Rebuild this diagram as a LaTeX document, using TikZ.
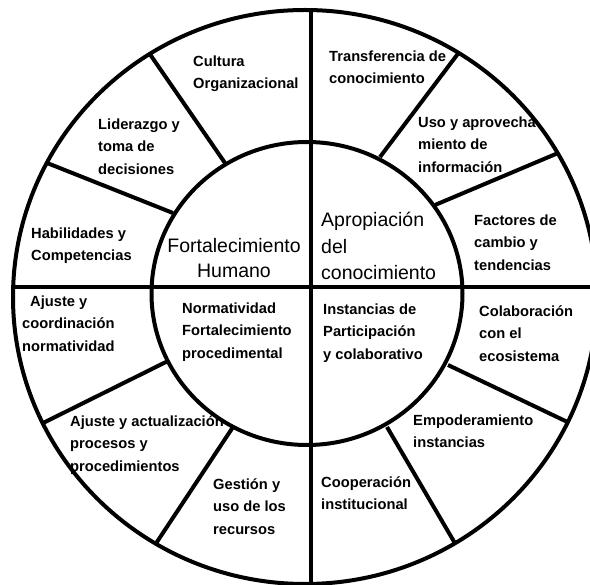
\documentclass[tikz,border=0pt]{standalone}
\usepackage{fontspec}
\setmainfont{Liberation Sans}

\begin{document}
\begin{tikzpicture}[x=1pt, y=-1pt,
		rim/.style={line width=4pt},
		spoke/.style={line width=4pt},
		item/.style={anchor=north west, inner sep=0pt, align=left, font=\bfseries\fontsize{14.7}{22.5}\selectfont},
		core/.style={anchor=north west, inner sep=0pt, align=left, font=\fontsize{19.5}{26.5}\selectfont}]
			\fill[white] (0, 0) rectangle (590, 585);
			\useasboundingbox (0, 0) rectangle (590, 585);
			\coordinate (O) at (305, 297);
			\coordinate (I) at (307, 293.5);
			\begin{scope}
				\clip (O) ellipse [x radius=292pt, y radius=287pt];
				\draw[rim] (311, 0) -- (311, 600);
				\draw[rim] (0, 287) -- (600, 287);
				\draw[spoke] (225, 163) -- (146, 48.5);
				\draw[spoke] (173, 213) -- (37, 159);
				\draw[spoke] (380, 157) -- (463, 47);
				\draw[spoke] (435, 205) -- (570, 148);
				\draw[spoke] (168, 361) -- (33, 428);
				\draw[spoke] (233, 427) -- (149, 554);
				\draw[spoke] (448, 365) -- (580, 428);
				\draw[spoke] (387, 427) -- (463, 557);
			\end{scope}
			\draw[rim] (O) ellipse [x radius=292pt, y radius=287pt];
			\draw[rim] (I) ellipse [x radius=155.5pt, y radius=151.5pt];
			\node[item](N1) at (193, 55.5){Cultura\\Organizacional};
			\node[item](N2) at (98, 118.5){Liderazgo y\\toma de\\decisiones};
			\node[item](N3) at (31, 227.5){Habilidades y\\Competencias};
			\node[item](N4) at (329, 50.5){Transferencia de\\conocimiento};
			\node[item](N5) at (418, 116.5){Uso y aprovecha\\miento de\\información};
			\node[item](N6) at (474, 214.5){Factores de\\cambio y\\tendencias};
			\node[item](N7) at (22, 295.5){\hspace*{8pt}Ajuste y\\coordinación\\normatividad};
			\node[item](N8) at (182, 302.5){Normatividad\\Fortalecimiento\\procedimental};
			\node[item](N9) at (70, 415.5){Ajuste y actualización\\procesos y\\procedimientos};
			\node[item](N10) at (213, 478.5){Gestión y\\uso de los\\recursos};
			\node[item](N11) at (323, 303.5){Instancias de\\Participación\\y colaborativo};
			\node[item](N12) at (479, 305.5){Colaboración\\con el\\ecosistema};
			\node[item](N13) at (413, 414.5){Empoderamiento\\instancias};
			\node[item](N14) at (321, 476.5){Cooperación\\institucional};
			\node[core, anchor=north, align=center, font=\fontsize{19.5}{25}\selectfont](C1) at (234, 238){Fortalecimiento\\Humano};
			\node[core](C2) at (321, 212){Apropiación\\del\\conocimiento};
		\end{tikzpicture}
\end{document}
